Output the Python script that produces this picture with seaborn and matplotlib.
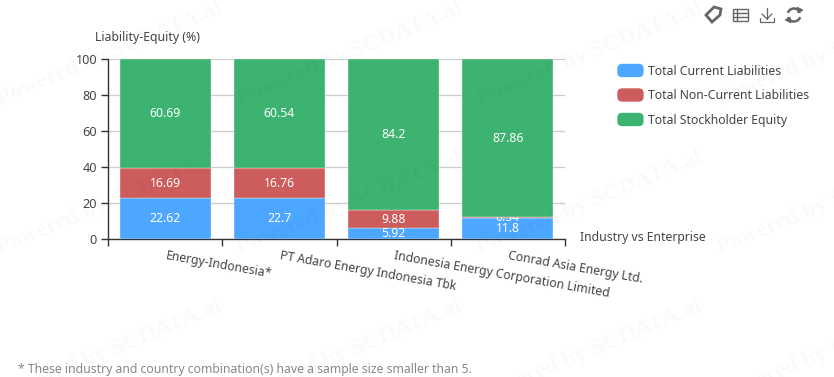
import numpy as np
import pandas as pd
import matplotlib
matplotlib.use("Agg")
import matplotlib.pyplot as plt
import seaborn as sns
from matplotlib.patches import FancyBboxPatch, Rectangle, Arc, Polygon
from matplotlib.legend_handler import HandlerPatch
from matplotlib.lines import Line2D
from matplotlib.transforms import ScaledTranslation

categories = ["Energy-Indonesia*", "PT Adaro Energy Indonesia Tbk",
              "Indonesia Energy Corporation Limited", "Conrad Asia Energy Ltd."]
current_liab = [22.62, 22.7, 5.92, 11.8]
noncurrent_liab = [16.69, 16.76, 9.88, 0.34]
equity = [60.69, 60.54, 84.2, 87.86]
series_names = ["Total Current Liabilities", "Total Non-Current Liabilities", "Total Stockholder Equity"]
colors = ["#4DA6FF", "#CD5C5C", "#3CB371"]
y_ticks = [0, 20, 40, 60, 80, 100]

W, H = 834, 377
sns.set_style("white")
plt.rcParams["font.family"] = ["Noto Sans", "DejaVu Sans"]
fs = 8.8

fig = plt.figure(figsize=(W / 100, H / 100), dpi=100)
ax = fig.add_axes([108.2 / W, 1 - 238.8 / H, (564.8 - 108.2) / W, (238.8 - 59.2) / H])

df = pd.DataFrame({"cat": categories, "cur": current_liab, "non": noncurrent_liab, "eq": equity})
bottoms = np.zeros(len(df))
for col, name, color in zip(["cur", "non", "eq"], series_names, colors):
    sns.barplot(data=df, x="cat", y=col, bottom=bottoms, color=color, saturation=1, width=0.8,
                edgecolor="#ffffff", linewidth=0.25, ax=ax, zorder=3, label=name, legend=False)
    for i, v in enumerate(df[col]):
        t = ax.annotate(str(v), (i, bottoms[i] + v / 2), xytext=(0, 1), textcoords="offset points", color="white",
                        ha="center", va="center_baseline", fontsize=fs, zorder=5)
        # the thin segment's label is covered by the bar above it
        if v < 1:
            t.set_clip_on(True)
            t.set_clip_path(Rectangle((-0.5, 0), 4, bottoms[i] + v, transform=ax.transData))
    bottoms = bottoms + df[col].values

ax.set_xlim(-0.5, 3.5)
ax.set_ylim(0, 100)
ax.set_xlabel("")
ax.set_ylabel("")
ax.set_yticks(y_ticks)
ax.yaxis.grid(True, color="#cccccc", lw=0.9)
ax.xaxis.grid(False)
ax.set_axisbelow(True)
ax.tick_params(axis="y", length=5, width=1, color="#333333", labelcolor="#444444", labelsize=fs + 0.3, pad=3, left=True)
ax.set_xticks(np.arange(-0.5, 4, 1), labels=[""] * 5)
ax.tick_params(axis="x", which="major", length=5, width=1, color="#333333", bottom=True)
ax.set_xticks(range(4), labels=categories, minor=True)
ax.tick_params(axis="x", which="minor", length=0, pad=7.5, labelsize=fs, labelcolor="#444444")
nudge = ScaledTranslation(1.5 / 100, 0, fig.dpi_scale_trans)
for lab in ax.get_xticklabels(minor=True):
    lab.set(rotation=-10, ha="left", va="top", rotation_mode="anchor")
    lab.set_transform(lab.get_transform() + nudge)
for s in ["top", "right"]:
    ax.spines[s].set_visible(False)
for s in ["left", "bottom"]:
    ax.spines[s].set_color("#333333")
    ax.spines[s].set_linewidth(1)

fig.text(95 / W, 1 - 37 / H, "Liability-Equity (%)", fontsize=fs, color="#444444", va="center")
fig.text(580 / W, 1 - 238 / H, "Industry vs Enterprise", fontsize=fs, color="#444444", va="center")
fig.text(18 / W, 1 - 369 / H, "* These industry and country combination(s) have a sample size smaller than 5.",
         fontsize=fs, color="#888888", va="center")


def rounded(legend, orig_handle, xdescent, ydescent, width, height, fontsize):
    return FancyBboxPatch((-xdescent + 3, -ydescent + 3), width - 6, height - 6,
                          boxstyle="round,pad=3,rounding_size=3", mutation_scale=1)


handles = [Rectangle((0, 0), 1, 1, color=c) for c in colors]
leg = fig.legend(handles, series_names, loc="upper left", bbox_to_anchor=(618 / W, 1 - 64.5 / H), borderaxespad=0,
                 borderpad=0, frameon=False, fontsize=fs, labelcolor="#444444", handlelength=2.04, handleheight=1.13,
                 handletextpad=0.4, labelspacing=0.93,
                 handler_map={Rectangle: HandlerPatch(patch_func=rounded)})

# toolbox icons
ic = "#666666"
fa = fig.add_axes([0, 0, 1, 1], zorder=10)
fa.set_xlim(0, W)
fa.set_ylim(H, 0)
fa.axis("off")
fa.add_patch(Polygon([(706, 15), (714, 7), (721, 9), (720, 15), (712, 22)], closed=True, fc="none", ec=ic, lw=2))
fa.add_patch(Rectangle((733, 9), 15, 12, fc="none", ec=ic, lw=1))
for yy in [13, 17]:
    fa.add_line(Line2D([733, 748], [yy, yy], color=ic, lw=1))
fa.add_line(Line2D([737.5, 737.5], [9, 21], color=ic, lw=1))
fa.add_line(Line2D([767, 767], [8, 19], color=ic, lw=0.9))
fa.add_line(Line2D([762, 767, 772], [14, 19, 14], color=ic, lw=0.9))
fa.add_line(Line2D([760, 760, 774, 774], [18, 22, 22, 18], color=ic, lw=0.9))
fa.add_patch(Arc((794, 15), 13, 13, theta1=200, theta2=340, ec=ic, lw=1.8))
fa.add_patch(Arc((794, 15), 13, 13, theta1=20, theta2=160, ec=ic, lw=1.8))
fa.add_patch(Polygon([(797, 7), (803, 10), (798, 13)], closed=True, fc=ic, ec=ic, lw=0.5))
fa.add_patch(Polygon([(791, 23), (785, 20), (790, 17)], closed=True, fc=ic, ec=ic, lw=0.5))

# watermark over everything
for y0 in [105, 254, 403]:
    for c in range(4):
        fig.text(c * 240 / W, 1 - y0 / H, "Powered by SCDATA.ai", family="Liberation Serif",
                 weight="bold", fontsize=17, color="black", alpha=0.022, rotation=22.6, rotation_mode="anchor",
                 ha="left", va="baseline", zorder=20)

fig.savefig("out.png", dpi=100)
